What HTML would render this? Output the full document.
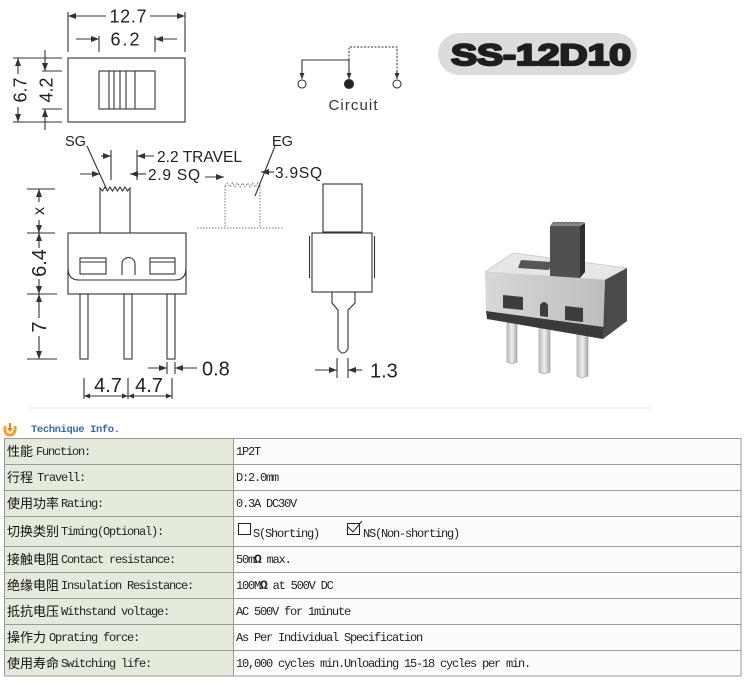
<!DOCTYPE html>
<html><head><meta charset="utf-8"><style>
html,body{margin:0;padding:0;background:#fff;}
svg{display:block;}
.d{font-family:"Liberation Sans",Arial,sans-serif;fill:#222;}
.cj{font-family:"Noto Sans CJK SC","WenQuanYi Zen Hei",sans-serif;font-size:13px;fill:#111;}
.m{font-family:"Liberation Mono",monospace;font-size:12px;letter-spacing:-1.2px;fill:#222;}
</style></head><body>
<svg width="746" height="686" viewBox="0 0 746 686" xmlns="http://www.w3.org/2000/svg">
<defs>
<marker id="a" viewBox="0 0 8 6" refX="8" refY="3" markerWidth="8" markerHeight="6" markerUnits="userSpaceOnUse" orient="auto"><path d="M0,0 L8,3 L0,6 z" fill="#333"/></marker>
<marker id="s" viewBox="0 0 6 5" refX="6" refY="2.5" markerWidth="6" markerHeight="5" markerUnits="userSpaceOnUse" orient="auto"><path d="M0,0 L6,2.5 L0,5 z" fill="#333"/></marker>
<linearGradient id="pin" x1="0" x2="1" y1="0" y2="0"><stop offset="0" stop-color="#bbb"/><stop offset="0.5" stop-color="#eee"/><stop offset="1" stop-color="#aaa"/></linearGradient>
<linearGradient id="front" x1="0" x2="1" y1="0" y2="0"><stop offset="0" stop-color="#d8d8d8"/><stop offset="1" stop-color="#bdbdbd"/></linearGradient>
</defs>

<g stroke="#333" stroke-width="1.1" fill="none">
<line x1="68" y1="12" x2="68" y2="52"/><line x1="185" y1="12" x2="185" y2="52"/>
<line x1="106" y1="16" x2="68" y2="16" marker-end="url(#a)"/>
<line x1="150" y1="16" x2="185" y2="16" marker-end="url(#a)"/>
<line x1="99" y1="36" x2="99" y2="52"/><line x1="155" y1="36" x2="155" y2="52"/>
<line x1="76" y1="39" x2="99" y2="39" marker-end="url(#a)"/>
<line x1="177" y1="39" x2="155" y2="39" marker-end="url(#a)"/>
<rect x="68" y="58" width="117" height="64"/>
<rect x="99" y="71" width="56" height="38"/>
<line x1="109" y1="71" x2="109" y2="109"/><line x1="114" y1="71" x2="114" y2="109"/>
<line x1="120" y1="71" x2="120" y2="109"/><line x1="126" y1="71" x2="126" y2="109"/>
<line x1="135" y1="71" x2="135" y2="109"/>
<line x1="13" y1="58" x2="62" y2="58"/><line x1="13" y1="122" x2="62" y2="122"/>
<line x1="18" y1="74" x2="18" y2="58" marker-end="url(#a)"/>
<line x1="18" y1="107" x2="18" y2="122" marker-end="url(#a)"/>
<line x1="42" y1="71" x2="62" y2="71"/><line x1="42" y1="109" x2="62" y2="109"/>
<line x1="45" y1="50" x2="45" y2="71" marker-end="url(#a)"/>
<line x1="45" y1="130" x2="45" y2="109" marker-end="url(#a)"/>

<polyline points="302,77 302,60 349,60 349,77"/>
<line x1="302" y1="70" x2="302" y2="79" marker-end="url(#s)"/>
<line x1="349" y1="70" x2="349" y2="79" marker-end="url(#s)"/>
<polyline points="349,60 349,47 397,47 397,77" stroke-dasharray="2,1.5" stroke-width="1"/>
<line x1="397" y1="70" x2="397" y2="79" marker-end="url(#s)"/>
<circle cx="302" cy="84" r="4" fill="#fff"/>
<circle cx="349" cy="84" r="4.5" fill="#222"/>
<circle cx="397" cy="84" r="4" fill="#fff"/>

<line x1="87" y1="146" x2="107" y2="190"/>
<line x1="111" y1="150" x2="111" y2="180"/><line x1="137" y1="150" x2="137" y2="180"/>
<line x1="101" y1="156" x2="111" y2="156" marker-end="url(#a)"/>
<line x1="154" y1="156" x2="137" y2="156" marker-end="url(#a)"/>
<line x1="80" y1="174" x2="100" y2="174" marker-end="url(#a)"/>
<line x1="146" y1="174" x2="130" y2="174" marker-end="url(#a)"/>
<polyline points="100,233 100,188 102.5,191 105,187 107.5,191 110,187 112.5,191 115,187 117.5,191 120,187 122.5,191 125,187 127.5,191 130,188 130,233"/>
<rect x="68" y="233" width="118" height="61"/>
<path d="M68,268 Q68,280 79,280 L175,280 Q186,280 186,268"/>
<path d="M122,275 L122,264 A6.5,6.5 0 0 1 135,264 L135,275"/>
<rect x="80" y="258" width="26" height="16"/><line x1="80" y1="262" x2="106" y2="262"/>
<rect x="150" y="258" width="25" height="16"/><line x1="150" y1="262" x2="175" y2="262"/>
<rect x="80" y="294" width="8" height="65"/>
<rect x="124" y="294" width="8" height="65"/>
<rect x="167" y="294" width="8" height="65"/>
<line x1="27" y1="189" x2="55" y2="189"/><line x1="27" y1="233" x2="55" y2="233"/>
<line x1="27" y1="294" x2="57" y2="294"/><line x1="27" y1="359" x2="57" y2="359"/>
<line x1="39" y1="202" x2="39" y2="189" marker-end="url(#a)"/>
<line x1="39" y1="220" x2="39" y2="233" marker-end="url(#a)"/>
<line x1="39" y1="248" x2="39" y2="233" marker-end="url(#a)"/>
<line x1="39" y1="279" x2="39" y2="294" marker-end="url(#a)"/>
<line x1="39" y1="318" x2="39" y2="294" marker-end="url(#a)"/>
<line x1="39" y1="336" x2="39" y2="359" marker-end="url(#a)"/>
<line x1="167" y1="362" x2="167" y2="374"/><line x1="175" y1="362" x2="175" y2="374"/>
<line x1="148" y1="368" x2="167" y2="368" marker-end="url(#a)"/>
<line x1="197" y1="368" x2="175" y2="368" marker-end="url(#a)"/>
<line x1="84" y1="378" x2="84" y2="399"/><line x1="128" y1="378" x2="128" y2="399"/><line x1="172" y1="378" x2="172" y2="399"/>
<line x1="106" y1="396" x2="84" y2="396" marker-end="url(#s)"/>
<line x1="106" y1="396" x2="128" y2="396" marker-end="url(#s)"/>
<line x1="150" y1="396" x2="128" y2="396" marker-end="url(#s)"/>
<line x1="150" y1="396" x2="172" y2="396" marker-end="url(#s)"/>

<line x1="205" y1="177" x2="224" y2="177" marker-end="url(#a)"/>
<g stroke="#777" stroke-width="1" stroke-dasharray="1.5,1.5">
<line x1="225" y1="186" x2="225" y2="228"/><line x1="260" y1="186" x2="260" y2="228"/>
<line x1="197" y1="228" x2="284" y2="228"/>
<polyline points="225,186 227.5,183 230,187 232.5,183 235,187 237.5,183 240,187 242.5,183 245,187 247.5,183 250,187 252.5,183 255,187 257.5,183 260,186"/>
</g>
<line x1="275" y1="146" x2="255" y2="196"/>
<line x1="274" y1="172" x2="261" y2="172" marker-end="url(#a)"/>

<rect x="323" y="184" width="39" height="48"/>
<rect x="312" y="233" width="60" height="59"/>
<line x1="309.5" y1="236" x2="309.5" y2="278"/><line x1="374.5" y1="236" x2="374.5" y2="278"/>
<path d="M332,292 L332,303 L338,310 L338,349 Q343,357 348,349 L348,310 L355,303 L355,292"/>
<line x1="337" y1="358" x2="337" y2="378"/><line x1="348" y1="358" x2="348" y2="378"/>
<line x1="315" y1="370" x2="337" y2="370" marker-end="url(#a)"/>
<line x1="362" y1="370" x2="348" y2="370" marker-end="url(#a)"/>
</g>

<g class="d">
<text x="128" y="22.5" font-size="18" text-anchor="middle" textLength="37">12.7</text>
<text x="125" y="45.5" font-size="18" text-anchor="middle" textLength="29">6.2</text>
<text x="20" y="90" font-size="18" text-anchor="middle" dy="6.5" transform="rotate(-90 20 90)">6.7</text>
<text x="46" y="90" font-size="18" text-anchor="middle" dy="6.5" transform="rotate(-90 46 90)">4.2</text>
<text x="353" y="110" font-size="15" text-anchor="middle" textLength="49" fill="#333">Circuit</text>
<text x="65" y="146" font-size="14.5">SG</text>
<text x="157" y="162" font-size="15.5" textLength="85">2.2 TRAVEL</text>
<text x="148" y="180" font-size="15.5" textLength="52">2.9 SQ</text>
<text x="272" y="146" font-size="14.5">EG</text>
<text x="275" y="178" font-size="15.5" textLength="47">3.9SQ</text>
<text x="39" y="211" font-size="16" text-anchor="middle" dy="5" transform="rotate(-90 39 211)">x</text>
<text x="39" y="263" font-size="20" text-anchor="middle" dy="7" transform="rotate(-90 39 263)">6.4</text>
<text x="39" y="327" font-size="20" text-anchor="middle" dy="7" transform="rotate(-90 39 327)">7</text>
<text x="202" y="375.5" font-size="20">0.8</text>
<text x="108" y="392" font-size="20" text-anchor="middle">4.7</text>
<text x="149" y="392" font-size="20" text-anchor="middle">4.7</text>
<text x="370" y="377.5" font-size="20">1.3</text>
</g>

<rect x="438" y="33" width="199" height="42" rx="21" fill="#dcdcdc"/>
<text x="451" y="65" font-family="Liberation Sans,Arial,sans-serif" font-weight="bold" font-size="30" textLength="180" lengthAdjust="spacingAndGlyphs" fill="#1e1e1e" stroke="#1e1e1e" stroke-width="2.2" stroke-linejoin="round">SS-12D10</text>

<g>
<polygon points="507,318 517,318 517,362 512,364 507,362" fill="url(#pin)" stroke="#aaa" stroke-width="0.8"/>
<polygon points="539,326 550,326 550,372 544,374 539,372" fill="url(#pin)" stroke="#aaa" stroke-width="0.8"/>
<polygon points="577,334 588,334 588,376 582,378 577,376" fill="url(#pin)" stroke="#aaa" stroke-width="0.8"/>
<polygon points="485,272 513,253 627,268 605,280" fill="#e6e6e6" stroke="#c8c8c8" stroke-width="0.8"/>
<polygon points="521,260 552,262 549,270 518,268" fill="#555"/>
<polygon points="485,272 605,280 604,327 486,311" fill="url(#front)"/>
<polygon points="486,311 604,327 603,339 487,319" fill="#3a3a3a"/>
<polygon points="605,280 627,268 627,321 603,339" fill="#4a4a4a"/>
<polygon points="503,295 523,297 523,310 503,308" fill="#3c3c3c"/>
<polygon points="565,306 583,308 583,322 565,320" fill="#3c3c3c"/>
<path d="M540,316 L540,305 Q544,299 548,305 L548,317 Z" fill="#3c3c3c"/>
<polygon points="550,226 580,226 580,278 550,276" fill="#505050"/>
<polygon points="580,226 585,223 585,272 580,278" fill="#2e2e2e"/>
<polygon points="550,226 553,222 583,222 585,223 580,226" fill="#888"/>
<path d="M552,224 l2,-2 l2,2 l2,-2 l2,2 l2,-2 l2,2 l2,-2 l2,2 l2,-2 l2,2 l2,-2 l2,2 l2,-2 l2,2" stroke="#6a6a6a" stroke-width="0.8" fill="none"/>
</g>

<line x1="30" y1="408" x2="650" y2="408" stroke="#e6e6e6" stroke-width="1"/>

<path d="M5,426 Q4,435 10,435 Q16,435 15,426" fill="none" stroke="#f0a030" stroke-width="3"/>
<path d="M7,428 L13,428 L10,432 Z" fill="#e08a10"/>
<line x1="10" y1="423" x2="10" y2="429" stroke="#e08a10" stroke-width="2"/>
<text x="31" y="432" font-family="Liberation Mono,monospace" font-weight="bold" font-size="10.5" fill="#3b6aa0" textLength="89">Technique Info.</text>

<rect x="4.5" y="438.5" width="228.5" height="237.5" fill="#e4ebdc"/>
<rect x="233" y="438.5" width="508" height="237.5" fill="#fcfcfc"/>
<g stroke="#999" stroke-width="1">
<rect x="4.5" y="438.5" width="736.5" height="237.5" fill="none"/>
<line x1="233.5" y1="438" x2="233.5" y2="676"/>
<line x1="4" y1="464.5" x2="741" y2="464.5"/>
<line x1="4" y1="490.5" x2="741" y2="490.5"/>
<line x1="4" y1="516.5" x2="741" y2="516.5"/>
<line x1="4" y1="546.5" x2="741" y2="546.5"/>
<line x1="4" y1="572.5" x2="741" y2="572.5"/>
<line x1="4" y1="598.5" x2="741" y2="598.5"/>
<line x1="4" y1="624.5" x2="741" y2="624.5"/>
<line x1="4" y1="650.5" x2="741" y2="650.5"/>
</g>

<text class="cj" x="7" y="456">性能</text><text class="m" x="36" y="455">Function:</text>
<text class="cj" x="7" y="482">行程</text><text class="m" x="37" y="481">Travell:</text>
<text class="cj" x="7" y="508">使用功率</text><text class="m" x="61" y="507">Rating:</text>
<text class="cj" x="7" y="536">切换类别</text><text class="m" x="61" y="535">Timing(Optional):</text>
<text class="cj" x="7" y="564">接触电阻</text><text class="m" x="61" y="563">Contact resistance:</text>
<text class="cj" x="7" y="590">绝缘电阻</text><text class="m" x="61" y="589">Insulation Resistance:</text>
<text class="cj" x="7" y="616">抵抗电压</text><text class="m" x="61" y="615">Withstand voltage:</text>
<text class="cj" x="7" y="642">操作力</text><text class="m" x="49" y="641">Oprating force:</text>
<text class="cj" x="7" y="668">使用寿命</text><text class="m" x="61" y="667">Switching life:</text>

<text class="m" x="236" y="455">1P2T</text>
<text class="m" x="236" y="481">D:2.0mm</text>
<text class="m" x="236" y="507">0.3A DC30V</text>
<rect x="238.5" y="523.5" width="12" height="11" fill="none" stroke="#222" stroke-width="1"/>
<text class="m" x="253" y="537">S(Shorting)</text>
<rect x="347.5" y="523.5" width="12" height="11" fill="none" stroke="#222" stroke-width="1"/>
<path d="M348,527 L353,532 L362,521" fill="none" stroke="#222" stroke-width="1"/>
<text class="m" x="363" y="537">NS(Non-shorting)</text>
<text class="m" x="236" y="563">50m<tspan font-weight="bold" font-size="13">Ω</tspan> max.</text>
<text class="m" x="236" y="589">100M<tspan font-weight="bold" font-size="13">Ω</tspan> at 500V DC</text>
<text class="m" x="236" y="615">AC 500V for 1minute</text>
<text class="m" x="236" y="641">As Per Individual Specification</text>
<text class="m" x="236" y="667">10,000 cycles min.Unloading 15-18 cycles per min.</text>
</svg>
</body></html>
